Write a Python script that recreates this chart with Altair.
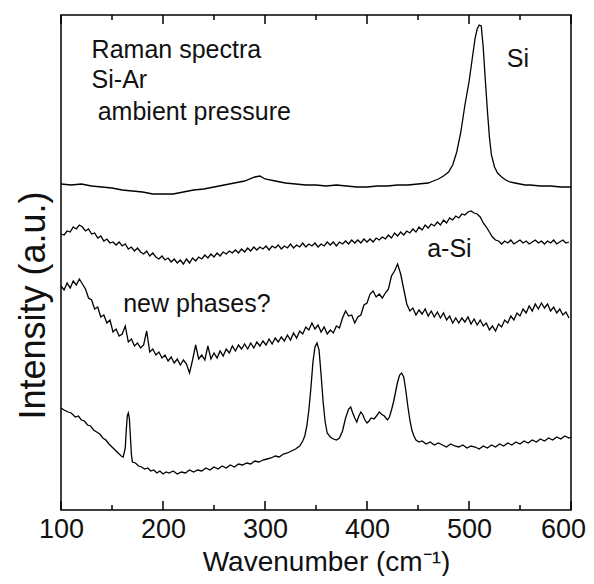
import altair as alt
import pandas as pd

# ---------------- data ----------------
# Spectrum 1: crystalline Si (top)
si_wn = [100,110,120,130,140,150,160,170,180,190,200,210,220,230,240,250,260,270,280,290,295,300,
         310,320,330,340,350,360,370,380,390,400,410,420,430,440,450,460,465,470,475,480,484,488,
         492,496,500,503,506,508,510,512,514,516,518,520,522,525,528,532,536,540,545,550,555,560,
         570,580,590,600]
si_val = [326,325,326,324,323,322,320,319,318,316,316,316,318,320,321,323,325,327,329,333,334,331,
          329,327,326,325,325,324,325,324,323,323,324,324,325,325,326,327,329,331,334,338,345,358,
          378,405,428,450,472,481,485,484,462,430,400,373,355,343,337,333,330,328,327,326,325,325,
          324,324,323,323]

# Spectra 2 and 3 sampled every 3 cm-1 from 100 to 598
grid3 = list(range(100, 599, 3))

# Spectrum 2: a-Si
asi_val = [276,275,279,278,283,281,285,283,279,281,   # 100-127
           276,277,272,274,269,271,267,268,265,268,   # 130-157
           264,266,261,263,259,262,258,256,259,254,   # 160-187
           257,253,251,254,250,252,248,251,247,250,   # 190-217
           246,251,247,252,249,253,251,255,252,256,   # 220-247
           253,257,254,258,256,259,257,260,257,261,   # 250-277
           258,262,259,263,260,263,261,264,260,264,   # 280-307
           262,265,261,264,262,266,262,265,263,267,   # 310-337
           263,266,264,267,263,266,264,268,265,268,   # 340-367
           264,268,266,269,266,270,267,270,267,271,   # 370-397
           268,271,268,272,270,273,271,275,272,277,   # 400-427
           274,278,275,279,277,281,278,283,280,285,   # 430-457
           282,286,284,288,285,290,287,292,290,294,   # 460-487
           292,296,295,298,299,297,296,293,287,283,   # 490-517
           278,273,270,269,266,269,267,270,266,268,   # 520-547
           270,267,269,266,268,270,267,269,266,269,   # 550-577
           267,270,266,268,270,267,268]               # 580-598

# Spectrum 3: new phases?
np_val = [224,220,227,222,229,225,231,226,221,212,   # 100-127
          210,201,203,193,195,187,190,178,181,174,   # 130-157
          176,184,168,171,164,167,162,165,179,158,   # 160-187
          161,155,158,152,155,149,153,147,151,145,   # 190-217
          150,146,137,150,165,151,155,150,164,151,   # 220-247
          157,152,159,154,161,157,164,159,165,161,   # 250-277
          166,161,167,162,168,164,169,165,171,166,   # 280-307
          172,168,173,169,175,170,177,172,179,176,   # 310-337
          183,180,187,181,185,178,183,176,180,177,   # 340-367
          184,182,192,199,194,195,187,193,195,205,   # 370-397
          207,216,219,213,216,212,217,221,234,239,   # 400-427
          246,236,221,206,199,202,195,200,196,201,   # 430-457
          194,199,193,198,192,197,190,194,187,192,   # 460-487
          187,192,188,193,186,191,185,190,184,187,   # 490-517
          180,184,179,186,183,190,187,194,190,197,   # 520-547
          194,201,197,204,199,206,201,207,202,206,   # 550-577
          199,203,197,201,195,198,192]               # 580-598

# Spectrum 4: bottom
bt_wn = [100,103,107,110,114,117,120,123,126,129,132,135,138,141,144,147,150,153,156,159,161,163,
         164,165,166,167,168,169,170,173,176,179,182,185,188,191,194,197,200,203,206,210,214,218,
         222,226,230,234,238,242,246,250,254,258,262,266,270,274,278,282,286,290,294,298,302,306,
         310,314,318,322,326,330,334,337,339,341,343,345,347,349,351,353,355,357,359,361,364,367,
         370,373,376,379,382,384,386,388,390,392,394,396,398,400,402,404,407,410,412,414,417,420,
         422,424,426,428,430,432,434,436,438,440,442,444,446,448,451,454,458,462,466,470,474,478,
         482,486,490,494,498,502,506,510,514,518,522,526,530,534,538,542,546,550,554,558,562,566,
         570,574,578,582,586,590,594,598,600]
bt_val = [102,100,98,97,93,94,90,89,85,84,80,78,76,72,70,66,63,60,57,54,53,62,
          80,94,97,92,74,56,48,47,44,43,41,42,39,40,37,39,36,38,37,39,36,38,
          37,40,38,40,39,42,40,43,41,44,42,45,43,46,45,47,46,49,48,50,51,52,
          54,53,56,57,59,61,64,69,74,84,100,122,148,163,167,160,135,108,88,77,73,71,
          70,72,79,92,101,103,97,92,88,94,98,95,90,87,89,92,91,95,98,96,94,90,
          93,100,108,118,128,135,137,133,120,104,90,80,74,70,68,69,66,68,65,67,65,63,
          66,64,63,65,62,64,63,61,64,62,65,63,66,64,67,65,68,66,69,67,70,68,
          71,69,72,70,73,71,74,72,73]

# Annotations
ann_text = ["Raman spectra", "Si-Ar", "ambient pressure", "Si", "a-Si", "new phases?"]
ann_x = [130, 130, 136, 537, 459, 161]
ann_y = [452, 422, 390, 443, 253, 198]

major_ticks = [100, 200, 300, 400, 500, 600]
minor_ticks = [150, 250, 350, 450, 550]

# ---------------- chart ----------------
FONT = "Liberation Sans"
W, H = 510, 495

rows = []
for name, wn, val in [("Si", si_wn, si_val), ("a-Si", grid3, asi_val),
                      ("new", grid3, np_val), ("bottom", bt_wn, bt_val)]:
    for a, b in zip(wn, val):
        rows.append({"series": name, "wn": a, "I": b})
df = pd.DataFrame(rows)

xscale = alt.Scale(domain=[100, 600], nice=False, zero=False)
yscale = alt.Scale(domain=[0, 495], nice=False, zero=False)

lines = alt.Chart(df).mark_line(color="black", strokeWidth=1.3).encode(
    x=alt.X("wn:Q", scale=xscale,
            axis=alt.Axis(values=major_ticks, ticks=False, grid=False, domain=False,
                          labelFont=FONT, labelFontSize=27, labelColor="#111",
                          labelPadding=6, format="d", labelFlush=False,
                          labelOffset=alt.expr("datum.value == 600 ? -8 : 0"),
                          title="Wavenumber (cm⁻¹)", titleFont=FONT, titleFontSize=28,
                          titleFontWeight="normal", titleColor="#111",
                          titleBaseline="alphabetic", titleX=265, titleY=60)),
    y=alt.Y("I:Q", scale=yscale,
            axis=alt.Axis(labels=False, ticks=False, grid=False, domain=False,
                          title="Intensity (a.u.)", titleFont=FONT, titleFontSize=36,
                          titleFontWeight="normal", titleColor="#111",
                          titleBaseline="alphabetic", titleX=-17, titleY=290)),
    detail="series:N",
)

tick_df_major = pd.DataFrame({"t": major_ticks})
tick_df_minor = pd.DataFrame({"t": minor_ticks})

def ticks(d, y1, y2):
    return alt.Chart(d).mark_rule(color="black", strokeWidth=1.5).encode(
        x=alt.X("t:Q", scale=xscale), y=alt.value(y1), y2=alt.value(y2))

tick_layers = [
    ticks(tick_df_major, H, H - 9), ticks(tick_df_minor, H, H - 5),
    ticks(tick_df_major, 0, 9), ticks(tick_df_minor, 0, 5),
]

ann_df = pd.DataFrame({"text": ann_text, "x": ann_x, "y": ann_y})
texts = alt.Chart(ann_df).mark_text(
    align="left", baseline="alphabetic", font=FONT, fontSize=25, color="#111"
).encode(x=alt.X("x:Q", scale=xscale), y=alt.Y("y:Q", scale=yscale), text="text:N")

chart = alt.layer(lines, texts, *tick_layers).properties(
    width=W, height=H,
    padding={"left": 53, "top": 7, "right": 15, "bottom": 66},
    autosize=alt.AutoSizeParams(type="none"),
).configure_view(stroke="black", strokeWidth=1.5)

chart.save("out.html", embed_options={"renderer": "svg", "actions": False})
